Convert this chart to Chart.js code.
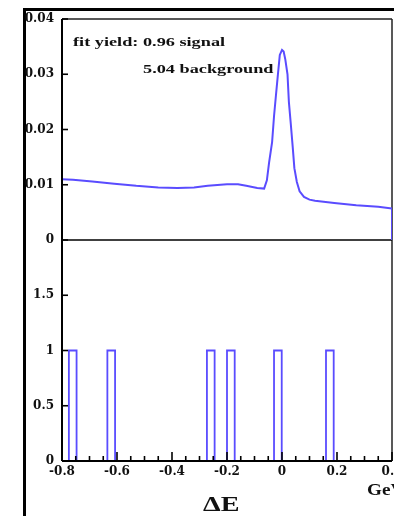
<!DOCTYPE html>
<html>
<head>
<meta charset="utf-8">
<script src="https://cdn.jsdelivr.net/npm/chart.js@4.4.1/dist/chart.umd.min.js"></script>
<style>
  html, body { margin: 0; padding: 0; background: #fff; }
  #wrap { position: relative; width: 394px; height: 516px; overflow: hidden; }
  #frame { position: absolute; left: 23px; top: 8px; right: 0; bottom: 0;
           border-left: 3px solid #000; border-top: 3px solid #000; }
  #chart { position: absolute; left: 0; top: 0; }
  .lbl { position: absolute; font-family: "Liberation Serif", "Times New Roman", serif;
         font-weight: bold; white-space: nowrap; line-height: 1; color: #111;
         transform-origin: 0 0; }
</style>
</head>
<body>
<div id="wrap">
  <div id="frame"></div>
  <canvas id="chart" width="394" height="516"></canvas>
  <div class="lbl" style="left:73px;top:36px;font-size:12.5px;transform:scaleX(1.46)">fit yield: 0.96 signal</div>
  <div class="lbl" style="left:143px;top:63px;font-size:12.5px;transform:scaleX(1.46)">5.04 background</div>
  <div class="lbl" style="left:203px;top:493px;font-size:22px;transform:scaleX(1.28)">&Delta;E</div>
  <div class="lbl" style="left:367px;top:482px;font-size:16px;transform:scaleX(1.2)">GeV</div>
</div>
<script>
  // ---- data ----
  // fitted pdf (top panel)
  const deltaE = [-0.8, -0.76, -0.69, -0.61, -0.53, -0.45, -0.38, -0.32, -0.27, -0.2, -0.16, -0.13,
    -0.09, -0.065, -0.055, -0.047, -0.036, -0.029, -0.022, -0.015, -0.008, 0, 0.006, 0.012,
    0.02, 0.025, 0.032, 0.039, 0.045, 0.054, 0.064, 0.08, 0.1, 0.12, 0.19, 0.27, 0.35, 0.4, 0.4];
  const fitPdf = [0.0110, 0.0109, 0.0106, 0.0102, 0.0098, 0.0095, 0.0094, 0.0095, 0.0098, 0.0101, 0.0101, 0.0098,
    0.0094, 0.0093, 0.0108, 0.0140, 0.0177, 0.0224, 0.0262, 0.0299, 0.0335, 0.0344, 0.0341, 0.0327,
    0.0300, 0.0250, 0.0210, 0.0168, 0.0130, 0.0105, 0.0088, 0.0078, 0.0073, 0.0071, 0.0067, 0.0063, 0.0060, 0.0057, 0];

  // events (bottom panel histogram)
  const eventLow = [-0.775, -0.635, -0.273, -0.2, -0.029, 0.16];
  const eventCount = [1, 1, 1, 1, 1, 1];
  const binWidth = 0.028;

  // tick labels
  const xTicks = [-0.8, -0.6, -0.4, -0.2, 0, 0.2, 0.4];
  const topTicks = [0, 0.01, 0.02, 0.03, 0.04];
  const botTicks = [0, 0.5, 1, 1.5];

  const BLUE = '#5a4cff';
  const tickFont = { family: 'DejaVu Serif', weight: 'bold', size: 12 };

  const curve = deltaE.map((x, i) => ({ x: x, y: fitPdf[i] }));
  const hist = [];
  eventLow.forEach(function(lo, i) {
    hist.push({ x: lo, y: 0 }, { x: lo, y: eventCount[i] },
              { x: lo + binWidth, y: eventCount[i] }, { x: lo + binWidth, y: 0 });
  });

  function line(ctx, x1, y1, x2, y2) {
    ctx.beginPath(); ctx.moveTo(x1, y1); ctx.lineTo(x2, y2); ctx.stroke();
  }

  // frame, zero line and inward ticks
  const framePlugin = {
    id: 'frame',
    beforeDatasetsDraw(chart) {
      const ctx = chart.ctx, a = chart.chartArea, yt = chart.scales.yTop;
      ctx.save();
      ctx.lineWidth = 1.5;
      ctx.strokeStyle = '#222';
      line(ctx, a.left, a.top, a.right, a.top);
      line(ctx, a.right, a.top, a.right, a.bottom);
      ctx.strokeStyle = '#000';
      line(ctx, a.left, yt.getPixelForValue(0), a.right, yt.getPixelForValue(0));
      ctx.restore();
    },
    afterDatasetsDraw(chart) {
      const ctx = chart.ctx, a = chart.chartArea;
      const sx = chart.scales.x, yt = chart.scales.yTop, yb = chart.scales.yBot;
      ctx.save();
      ctx.strokeStyle = '#000';
      ctx.lineWidth = 1.6;
      for (let i = 0; i <= 24; i++) {
        const px = sx.getPixelForValue(-0.8 + i * 0.05);
        line(ctx, px, a.bottom, px, a.bottom - (i % 4 === 0 ? 9 : 5));
      }
      [yt, yb].forEach(function(s) {
        s.ticks.forEach(function(t) {
          const py = s.getPixelForValue(t.value);
          line(ctx, a.left, py, a.left + 6, py);
        });
      });
      ctx.lineWidth = 2;
      line(ctx, a.left, a.top, a.left, a.bottom);
      line(ctx, a.left, a.bottom, a.right, a.bottom);
      ctx.restore();
    }
  };

  function yAxis(min, max, ticks, weight) {
    return {
      type: 'linear', position: 'left', stack: 'de', stackWeight: 1, weight: weight,
      min: min, max: max,
      grid: { display: false, drawTicks: false },
      border: { display: false },
      afterBuildTicks: s => { s.ticks = ticks.map(v => ({ value: v })); },
      afterFit: s => { s.width = 40; },
      ticks: { font: tickFont, color: '#111', padding: 8, callback: v => String(v) }
    };
  }

  new Chart(document.getElementById('chart'), {
    type: 'line',
    data: {
      datasets: [
        { data: curve, yAxisID: 'yTop', borderColor: BLUE, borderWidth: 2,
          pointRadius: 0, tension: 0, fill: false },
        { data: hist, yAxisID: 'yBot', borderColor: BLUE, borderWidth: 1.8,
          pointRadius: 0, tension: 0, fill: false }
      ]
    },
    options: {
      responsive: false,
      animation: false,
      layout: { padding: { left: 22, top: 19, right: 2, bottom: 35 } },
      plugins: { legend: { display: false }, tooltip: { enabled: false } },
      scales: {
        x: {
          type: 'linear', position: 'bottom', min: -0.8, max: 0.4,
          grid: { display: false, drawTicks: false },
          border: { display: false },
          afterBuildTicks: s => { s.ticks = xTicks.map(v => ({ value: v })); },
          afterFit: s => { s.height = 20; s.paddingLeft = 0; s.paddingRight = 0; },
          ticks: { font: tickFont, color: '#111', padding: 4, maxRotation: 0, autoSkip: false,
                   callback: v => String(v) }
        },
        yTop: yAxis(0, 0.04, topTicks, 2),
        yBot: yAxis(0, 2, botTicks, 1)
      }
    },
    plugins: [framePlugin]
  });
</script>
</body>
</html>
